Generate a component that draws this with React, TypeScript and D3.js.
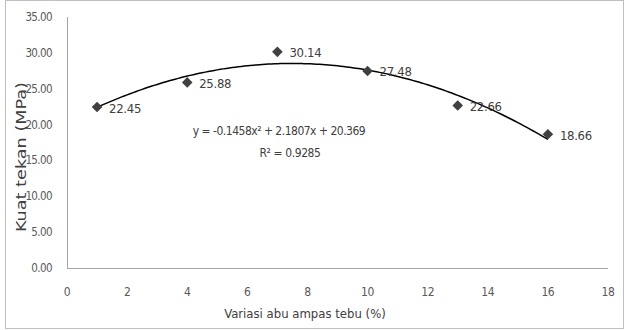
import React from "react";
import { scaleLinear, line, range, symbol, symbolSquare } from "d3";

const width = 625;
const height = 330;
const margin = { top: 17, right: 17, bottom: 62, left: 67 };

const xValues = [1, 4, 7, 10, 13, 16];
const yValues = [22.45, 25.88, 30.14, 27.48, 22.66, 18.66];
const xTicks = [0, 2, 4, 6, 8, 10, 12, 14, 16, 18];
const yTicks = [0, 5, 10, 15, 20, 25, 30, 35];
// trendline coefficients shown on the chart (a, b, c)
const trendCoef = [-0.1458, 2.1807, 20.369];
const equationText = "y = -0.1458x² + 2.1807x + 20.369";
const rSquaredText = "R² = 0.9285";

const font = "'DejaVu Sans Condensed', 'Liberation Sans Narrow', sans-serif";
const textColor = "#595959";

export default function App() {
  const xScale = scaleLinear()
    .domain([0, 18])
    .range([margin.left, width - margin.right]);
  const yScale = scaleLinear()
    .domain([0, 35])
    .range([height - margin.bottom, margin.top]);

  const trendX = range(xValues[0], xValues[xValues.length - 1] + 0.001, 0.1);
  const trendPath = line<number>()
    .x((d) => xScale(d))
    .y((d) => yScale(trendCoef[0] * d * d + trendCoef[1] * d + trendCoef[2]));

  const diamond = symbol().type(symbolSquare).size(56)();

  return (
    <div style={{ position: "fixed", left: 0, top: 0 }}>
      <svg width={width} height={height} style={{ display: "block" }}>
        <rect x={0} y={0} width={width} height={height} fill="#fff" />
        <rect
          x={5.5}
          y={0.5}
          width={width - 7}
          height={height - 2}
          fill="none"
          stroke="#bfbfbf"
        />
        {/* axes */}
        <line
          x1={margin.left + 0.5}
          x2={margin.left + 0.5}
          y1={margin.top}
          y2={height - margin.bottom}
          stroke="#a6a6a6"
        />
        <line
          x1={margin.left}
          x2={width - margin.right}
          y1={height - margin.bottom + 0.5}
          y2={height - margin.bottom + 0.5}
          stroke="#a6a6a6"
        />
        {yTicks.map((t) => (
          <text
            key={`y${t}`}
            x={margin.left - 15}
            y={yScale(t)}
            dy="0.35em"
            textAnchor="end"
            fontSize={11.5}
            letterSpacing={-0.6}
            fontFamily={font}
            fill={textColor}
          >
            {t.toFixed(2)}
          </text>
        ))}
        {xTicks.map((t) => (
          <text
            key={`x${t}`}
            x={xScale(t)}
            y={height - margin.bottom + 28}
            textAnchor="middle"
            fontSize={12}
            letterSpacing={-0.4}
            fontFamily={font}
            fill={textColor}
          >
            {t}
          </text>
        ))}
        <text
          x={305}
          y={318}
          textAnchor="middle"
          fontSize={13}
          fontFamily={font}
          fill="#404040"
        >
          Variasi abu ampas tebu (%)
        </text>
        <text
          transform={`translate(26,157) rotate(-90)`}
          textAnchor="middle"
          fontSize={14}
          textLength={150}
          lengthAdjust="spacingAndGlyphs"
          fontFamily={font}
          fill="#404040"
        >
          Kuat tekan (MPa)
        </text>
        {/* trendline */}
        <path
          d={trendPath(trendX) || ""}
          fill="none"
          stroke="#000"
          strokeWidth={1.5}
        />
        {xValues.map((x, i) => (
          <g key={`p${i}`}>
            <path
              d={diamond}
              transform={`translate(${xScale(x)},${yScale(yValues[i])}) rotate(45)`}
              fill="#404040"
            />
            <text
              x={xScale(x) + 12}
              y={yScale(yValues[i]) + 1}
              dy="0.35em"
              fontSize={13}
              letterSpacing={-0.3}
              fontFamily={font}
              fill="#404040"
            >
              {yValues[i].toFixed(2)}
            </text>
          </g>
        ))}
        <text
          x={279}
          y={135}
          textAnchor="middle"
          fontSize={12}
          letterSpacing={-0.5}
          fontFamily={font}
          fill="#404040"
        >
          {equationText}
        </text>
        <text
          x={290}
          y={157}
          textAnchor="middle"
          fontSize={12}
          letterSpacing={-0.4}
          fontFamily={font}
          fill="#404040"
        >
          {rSquaredText}
        </text>
      </svg>
    </div>
  );
}
